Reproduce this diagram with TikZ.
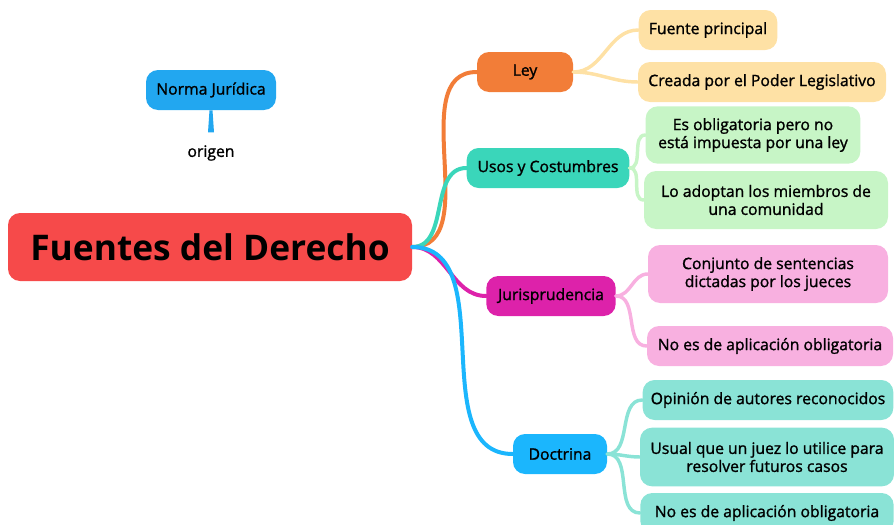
\documentclass[tikz,border=0pt]{standalone}
\usepackage{fontspec}
\setmainfont{Open Sans}
\newfontfamily\semib[FakeBold=1.3]{Open Sans}
\usepackage[]{xcolor}

\definecolor{mainred}{HTML}{F64A4A}
\definecolor{normablue}{HTML}{22A7F0}
\definecolor{leyorange}{HTML}{F27D38}
\definecolor{usosteal}{HTML}{3AD6BA}
\definecolor{jurismagenta}{HTML}{DD22AA}
\definecolor{doctblue}{HTML}{1BB6FD}
\definecolor{leyleaf}{HTML}{FEE1A5}
\definecolor{usosleaf}{HTML}{C7F5C6}
\definecolor{jurisleaf}{HTML}{F8B0E0}
\definecolor{doctleaf}{HTML}{8AE3D6}

\begin{document}
\begin{tikzpicture}[
            x=0.75pt, y=-0.75pt,
            main/.style={rectangle, fill=mainred, rounded corners=9pt, minimum width=303pt, minimum height=51pt, font=\fontsize{26.5}{30}\selectfont\bfseries},
            branch/.style={rectangle, rounded corners=9pt, minimum height=30pt, font=\semib\fontsize{11.8}{13.5}\selectfont, align=center},
            leaf/.style={rectangle, rounded corners=9pt, minimum height=30pt, font=\semib\fontsize{11.8}{13.5}\selectfont, align=center},
            link/.style={line width=3pt, line cap=round},
            sublink/.style={line width=2.6pt, line cap=round}
        ]
            \useasboundingbox (0,0) rectangle (894,525);

            \node[main] (fuentes) at (210,247) {Fuentes del Derecho};
            \node[branch, fill=normablue, minimum width=97.5pt] (norma) at (211,90) {Norma Jurídica};
            \node[font=\semib\fontsize{11.8}{13.5}\selectfont] (origen) at (211,153) {origen};
            \fill[normablue] (norma.south) ++(-1.5,0) -- ++(3,0) -- ++(1.5,22) -- ++(-6,0) -- cycle;

            \node[branch, fill=leyorange, minimum width=72pt] (ley) at (525,72) {Ley};
            \node[branch, fill=usosteal, minimum width=122pt] (usos) at (548,168) {Usos y Costumbres};
            \node[branch, fill=jurismagenta, minimum width=97pt] (juris) at (551,296) {Jurisprudencia};
            \node[branch, fill=doctblue, minimum width=70.5pt] (doct) at (560,454) {Doctrina};

            \node[leaf, fill=leyleaf, minimum width=104pt] (ley1) at (708,30) {Fuente principal};
            \node[leaf, fill=leyleaf, minimum width=186pt] (ley2) at (762,82) {Creada por el Poder Legislativo};
            \node[leaf, fill=usosleaf, minimum width=161pt, minimum height=43pt] (usos1) at (753,135) {Es obligatoria pero no\\está impuesta por una ley};
            \node[leaf, fill=usosleaf, minimum width=183pt, minimum height=43.5pt] (usos2) at (766,200) {Lo adoptan los miembros de\\una comunidad};
            \node[leaf, fill=jurisleaf, minimum width=180pt, minimum height=43.5pt] (juris1) at (768,274) {Conjunto de sentencias\\dictadas por los jueces};
            \node[leaf, fill=jurisleaf, minimum width=184.5pt] (juris2) at (770,346) {No es de aplicación obligatoria};
            \node[leaf, fill=doctleaf, minimum width=188pt] (doct1) at (768,400) {Opinión de autores reconocidos};
            \node[leaf, fill=doctleaf, minimum width=190.5pt, minimum height=44pt] (doct2) at (767,457) {Usual que un juez lo utilice para\\resolver futuros casos};
            \node[leaf, fill=doctleaf, minimum width=190pt] (doct3) at (767,513) {No es de aplicación obligatoria};

            \draw[link, leyorange] (fuentes.east) to[out=0, in=180] (ley.west);
            \draw[link, usosteal] (fuentes.east) to[out=0, in=180] (usos.west);
            \draw[link, jurismagenta] (fuentes.east) to[out=0, in=180] (juris.west);
            \draw[link, doctblue] (fuentes.east) to[out=0, in=180] (doct.west);

            \draw[sublink, leyleaf] (ley.east) to[out=0, in=180] (ley1.west);
            \draw[sublink, leyleaf] (ley.east) to[out=0, in=180] (ley2.west);
            \draw[sublink, usosleaf] (usos.east) to[out=0, in=180] (usos1.west);
            \draw[sublink, usosleaf] (usos.east) to[out=0, in=180] (usos2.west);
            \draw[sublink, jurisleaf] (juris.east) to[out=0, in=180] (juris1.west);
            \draw[sublink, jurisleaf] (juris.east) to[out=0, in=180] (juris2.west);
            \draw[sublink, doctleaf] (doct.east) to[out=0, in=180] (doct1.west);
            \draw[sublink, doctleaf] (doct.east) to[out=0, in=180] (doct2.west);
            \draw[sublink, doctleaf] (doct.east) to[out=0, in=180] (doct3.west);
        \end{tikzpicture}
\end{document}
